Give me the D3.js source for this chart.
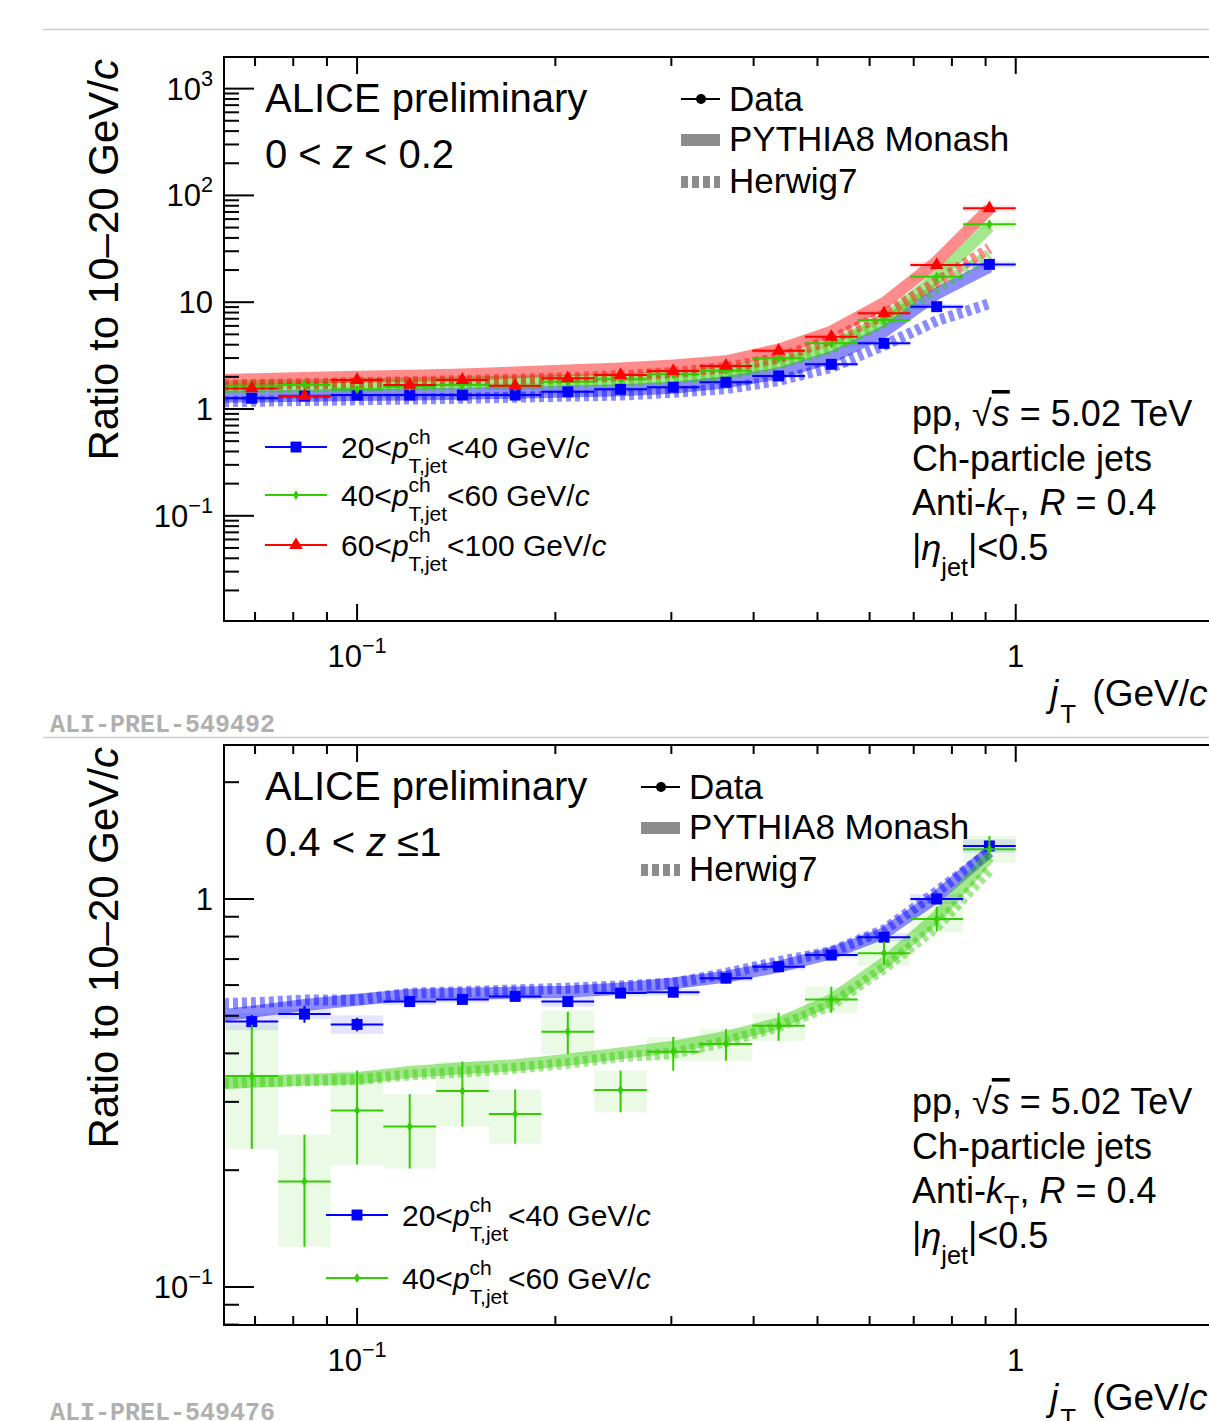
<!DOCTYPE html>
<html>
<head>
<meta charset="utf-8">
<script src="https://cdn.jsdelivr.net/npm/d3@7"></script>
<style>
body{margin:0;background:#fff}
svg{display:block}
text{font-family:"Liberation Sans",Arial,Helvetica,sans-serif;fill:#000}
</style>
</head>
<body>
<svg id="chart" width="1209" height="1421"></svg>
<script>
// jT bins (GeV/c), log spaced
var binEdges = [0.0631,0.0759,0.0912,0.1096,0.1318,0.1585,0.1905,0.2291,0.2754,0.3311,0.3981,0.4786,0.5754,0.6918,0.8318,1.0];
var binCenters = [0.0692,0.0832,0.1,0.1202,0.1445,0.1738,0.2089,0.2512,0.302,0.3631,0.4365,0.5248,0.631,0.7586,0.912];
// model curves are given at the left frame edge + bin centres
var modelX = [0.0628,0.0692,0.0832,0.1,0.1202,0.1445,0.1738,0.2089,0.2512,0.302,0.3631,0.4365,0.5248,0.631,0.7586,0.912];

// ---- top panel: 0 < z < 0.2 ----
var topBlue  = [1.26,1.32,1.35,1.35,1.35,1.35,1.45,1.53,1.60,1.78,2.04,2.62,4.12,9.08,22.6];
var topGreen = [1.65,1.68,1.53,1.62,1.68,1.62,1.80,1.90,2.11,2.28,2.98,4.12,6.81,17.3,53.6];
var topRed   = [1.56,1.32,1.87,1.68,1.87,1.65,1.94,2.08,2.27,2.53,3.51,4.75,7.87,22.3,75.7];
var topBlueStat  = [0.03,0.03,0.03,0.03,0.03,0.03,0.03,0.03,0.03,0.03,0.03,0.03,0.03,0.03,0.03];
var topGreenStat = [0.03,0.03,0.03,0.03,0.03,0.03,0.03,0.03,0.03,0.03,0.03,0.03,0.03,0.03,0.04];
var topRedStat   = [0.03,0.03,0.03,0.03,0.03,0.03,0.03,0.03,0.03,0.03,0.03,0.03,0.03,0.03,0.04];
var topBlueSys  = [0.05,0.05,0.05,0.05,0.05,0.05,0.05,0.05,0.05,0.05,0.05,0.05,0.05,0.06,0.07];
var topGreenSys = [0.07,0.07,0.07,0.07,0.07,0.07,0.07,0.07,0.07,0.07,0.07,0.08,0.08,0.09,0.11];
var topRedSys   = [0.06,0.06,0.06,0.06,0.06,0.06,0.06,0.06,0.06,0.06,0.06,0.06,0.06,0.07,0.07];
var topBluePythia  = [1.30,1.31,1.33,1.35,1.37,1.39,1.42,1.46,1.50,1.58,1.78,2.15,3.05,5.3,12.0,21.5];
var topBlueHerwig  = [1.17,1.18,1.20,1.22,1.24,1.26,1.29,1.32,1.35,1.43,1.55,1.85,2.45,3.95,6.7,9.7];
var topGreenPythia = [1.62,1.64,1.67,1.70,1.74,1.77,1.81,1.86,1.90,2.00,2.20,2.75,3.9,6.8,17.0,51.0];
var topGreenHerwig = [1.55,1.57,1.60,1.62,1.65,1.68,1.71,1.75,1.80,1.90,2.10,2.60,3.7,6.5,13.5,28.0];
var topRedPythia   = [1.87,1.90,1.95,2.00,2.05,2.10,2.20,2.30,2.40,2.55,2.80,3.6,5.3,9.8,24.0,75.0];
var topRedHerwig   = [1.68,1.70,1.73,1.76,1.80,1.85,1.90,1.97,2.05,2.20,2.45,3.0,4.5,7.6,15.5,32.0];

// ---- bottom panel: 0.4 < z <= 1 ----
var botBlue  = [0.483,0.505,0.475,0.544,0.551,0.561,0.544,0.572,0.575,0.625,0.669,0.717,0.797,1.0,1.37];
var botBlueStat = [0.04,0.05,0.04,0.03,0.03,0.03,0.03,0.03,0.03,0.03,0.03,0.03,0.03,0.03,0.03];
var botBlueSys  = [0.05,0.03,0.055,0.02,0.02,0.02,0.03,0.02,0.02,0.02,0.02,0.02,0.025,0.03,0.04];
var botGreen = [0.350,0.187,0.285,0.259,0.320,0.279,0.455,0.322,0.404,0.423,0.471,0.551,0.725,0.888,1.343];
var botGreenLo = [0.227,0.127,0.207,0.202,0.259,0.234,0.398,0.282,0.361,0.383,0.431,0.509,0.676,0.824,1.26];
var botGreenHi = [0.474,0.247,0.361,0.314,0.381,0.323,0.512,0.361,0.441,0.462,0.509,0.594,0.776,0.955,1.453];
var botGreenSysLo = [0.227,0.127,0.206,0.202,0.259,0.234,0.398,0.282,0.381,0.383,0.431,0.509,0.672,0.82,1.24];
var botGreenSysHi = [0.474,0.247,0.361,0.314,0.381,0.323,0.515,0.361,0.441,0.462,0.509,0.594,0.785,0.96,1.453];
var botBluePythia  = [0.502,0.512,0.533,0.550,0.566,0.570,0.574,0.577,0.588,0.606,0.631,0.669,0.725,0.816,1.014,1.324];
var botBlueHerwig  = [0.538,0.540,0.549,0.549,0.572,0.577,0.583,0.589,0.597,0.607,0.643,0.689,0.732,0.832,1.044,1.32];
var botGreenPythia = [0.335,0.338,0.342,0.345,0.358,0.366,0.373,0.385,0.400,0.416,0.441,0.478,0.549,0.683,0.900,1.285];
var botGreenHerwig = [0.335,0.338,0.340,0.342,0.352,0.358,0.366,0.377,0.392,0.400,0.429,0.469,0.533,0.663,0.848,1.188];

var BLUE = "#0000ff", GREEN = "#33cc00", RED = "#ff0000";
var xDomain = [0.0628, 3.0];

var svg = d3.select("#chart");

// text with italic / sub / sup pieces
function rich(g, x, y, size, parts, anchor) {
  var t = g.append("text").attr("x", x).attr("y", y).attr("font-size", size)
    .attr("text-anchor", anchor || "start");
  var off = 0, extra = 0;
  parts.forEach(function(p) {
    if (typeof p === "string") p = {t: p};
    if (p.sup !== undefined && p.sub !== undefined) {
      var up = -0.47 * size, dn = 0.5 * size;
      var s1 = t.append("tspan").attr("font-size", size * 0.7).attr("dy", up - off).attr("dx", extra).text(p.sup);
      var w1 = s1.node().getComputedTextLength();
      var s2 = t.append("tspan").attr("font-size", size * 0.7).attr("dx", -w1).attr("dy", dn - up).text(p.sub);
      var w2 = s2.node().getComputedTextLength();
      extra = Math.max(0, w1 - w2);
      off = dn;
    } else if (p.sup !== undefined) {
      t.append("tspan").attr("font-size", size * 0.7).attr("dy", -0.45 * size - off).attr("dx", extra).text(p.sup);
      off = -0.45 * size; extra = 0;
    } else if (p.sub !== undefined) {
      t.append("tspan").attr("font-size", size * 0.7).attr("dy", (p.d || 0.4) * size - off).attr("dx", extra + (p.dx || 0)).text(p.sub);
      off = (p.d || 0.4) * size; extra = p.after || 0;
    } else {
      var s = t.append("tspan").attr("dy", -off).attr("dx", extra).text(p.t);
      if (p.i) s.attr("font-style", "italic");
      if (p.over) s.style("text-decoration", "overline");
      off = 0; extra = 0;
    }
  });
  return t;
}

function drawPanel(cfg) {
  var g = svg.append("g");
  var x = d3.scaleLog().domain(xDomain).range([224, 1330]);
  var y = d3.scaleLog().domain(cfg.yDomain).range([cfg.y1, cfg.y0]);
  var clipId = "clip" + cfg.y0;
  g.append("clipPath").attr("id", clipId).append("rect")
    .attr("x", 224).attr("y", cfg.y0).attr("width", 1106).attr("height", cfg.y1 - cfg.y0);
  var plot = g.append("g").attr("clip-path", "url(#" + clipId + ")");

  // systematic boxes
  cfg.series.forEach(function(s) {
    s.val.forEach(function(v, i) {
      var hi = s.sysHi ? s.sysHi[i] : v * (1 + s.sys[i]);
      var lo = s.sysLo ? s.sysLo[i] : v * (1 - s.sys[i]);
      plot.append("rect")
        .attr("x", x(binEdges[i])).attr("width", x(binEdges[i + 1]) - x(binEdges[i]))
        .attr("y", y(hi)).attr("height", y(lo) - y(hi))
        .attr("fill", s.color).attr("fill-opacity", 0.1);
    });
  });

  // model curves
  var line = d3.line().x(function(d) { return x(d[0]); }).y(function(d) { return y(d[1]); });
  cfg.series.forEach(function(s) {
    plot.append("path").attr("d", line(d3.zip(modelX, s.pythia)))
      .attr("fill", "none").attr("stroke", s.color).attr("stroke-opacity", 0.45)
      .attr("stroke-width", 12);
    plot.append("path").attr("d", line(d3.zip(modelX, s.herwig)))
      .attr("fill", "none").attr("stroke", s.color).attr("stroke-opacity", 0.45)
      .attr("stroke-width", 11).attr("stroke-dasharray", "5,4");
  });

  // data points
  cfg.series.forEach(function(s) {
    s.val.forEach(function(v, i) {
      var cx = x(binCenters[i]), cy = y(v);
      var hi = s.hi ? s.hi[i] : v * (1 + s.stat[i]);
      var lo = s.lo ? s.lo[i] : v * (1 - s.stat[i]);
      plot.append("line").attr("x1", x(binEdges[i])).attr("x2", x(binEdges[i + 1]))
        .attr("y1", cy).attr("y2", cy).attr("stroke", s.color).attr("stroke-width", 2);
      plot.append("line").attr("x1", cx).attr("x2", cx)
        .attr("y1", y(hi)).attr("y2", y(lo)).attr("stroke", s.color).attr("stroke-width", 2);
      plot.append("path").attr("d", d3.symbol().type(s.shape).size(s.size)())
        .attr("transform", "translate(" + cx + "," + cy + ")").attr("fill", s.color);
    });
  });

  // frame
  g.append("rect").attr("x", 224).attr("y", cfg.y0).attr("width", 1106).attr("height", cfg.y1 - cfg.y0)
    .attr("fill", "none").attr("stroke", "#000").attr("stroke-width", 2);

  // y ticks
  var isMajor = function(v) { return Math.abs(Math.log10(v) - Math.round(Math.log10(v))) < 1e-6; };
  y.ticks().forEach(function(v) {
    var len = isMajor(v) ? 30 : 15;
    g.append("line").attr("x1", 224).attr("x2", 224 + len).attr("y1", y(v)).attr("y2", y(v))
      .attr("stroke", "#000").attr("stroke-width", 2);
    g.append("line").attr("x1", 1330).attr("x2", 1330 - len).attr("y1", y(v)).attr("y2", y(v))
      .attr("stroke", "#000").attr("stroke-width", 2);
    if (isMajor(v)) {
      var e = Math.round(Math.log10(v));
      if (e === 0) rich(g, 213, y(v) + 11, 31, ["1"], "end");
      else if (e === 1) rich(g, 213, y(v) + 11, 31, ["10"], "end");
      else rich(g, 213, y(v) + 11, 31, ["10", {sup: e < 0 ? "\u2212" + (-e) : "" + e}], "end");
    }
  });
  // x ticks
  x.ticks().forEach(function(v) {
    var len = isMajor(v) ? 17 : 9;
    g.append("line").attr("x1", x(v)).attr("x2", x(v)).attr("y1", cfg.y1).attr("y2", cfg.y1 - len)
      .attr("stroke", "#000").attr("stroke-width", 2);
    g.append("line").attr("x1", x(v)).attr("x2", x(v)).attr("y1", cfg.y0).attr("y2", cfg.y0 + len)
      .attr("stroke", "#000").attr("stroke-width", 2);
    if (isMajor(v)) {
      var e = Math.round(Math.log10(v));
      if (e === 0) rich(g, x(v), cfg.y1 + 46, 31, ["1"], "middle");
      else rich(g, x(v), cfg.y1 + 46, 31, ["10", {sup: "\u2212" + (-e)}], "middle");
    }
  });

  // axis titles
  var yt = g.append("g").attr("transform", "translate(118," + (cfg.y0 + 2) + ") rotate(-90)");
  rich(yt, 0, 0, 42, ["Ratio to 10\u201320 GeV/", {t: "c", i: true}], "end");
  rich(g, 1050, cfg.y1 + 85, 37, [{t: "j", i: true}, {sub: "T", d: 0.45, dx: 2, after: 6}, " (GeV/", {t: "c", i: true}]);

  // labels
  rich(g, 265, cfg.y0 + 55, 40, ["ALICE preliminary"]);
  rich(g, 265, cfg.y0 + 111, 40, cfg.zLabel);

  // model legend
  var lx = cfg.legX;
  var ly = cfg.y0 + 42;
  g.append("line").attr("x1", lx).attr("x2", lx + 39).attr("y1", ly).attr("y2", ly).attr("stroke", "#000").attr("stroke-width", 2);
  g.append("circle").attr("cx", lx + 20).attr("cy", ly).attr("r", 5).attr("fill", "#000");
  rich(g, lx + 48, ly + 12, 35, ["Data"]);
  g.append("rect").attr("x", lx).attr("y", ly + 35).attr("width", 39).attr("height", 12).attr("fill", "#8c8c8c");
  rich(g, lx + 48, ly + 52, 35, ["PYTHIA8 Monash"]);
  g.append("line").attr("x1", lx).attr("x2", lx + 39).attr("y1", ly + 83).attr("y2", ly + 83)
    .attr("stroke", "#8c8c8c").attr("stroke-width", 12).attr("stroke-dasharray", "7,4");
  rich(g, lx + 48, ly + 94, 35, ["Herwig7"]);

  // series legend
  cfg.series.forEach(function(s, k) {
    var yy = cfg.serY[k];
    g.append("line").attr("x1", cfg.serX).attr("x2", cfg.serX + 62).attr("y1", yy).attr("y2", yy)
      .attr("stroke", s.color).attr("stroke-width", 2);
    g.append("path").attr("d", d3.symbol().type(s.shape).size(s.size)())
      .attr("transform", "translate(" + (cfg.serX + 31) + "," + yy + ")").attr("fill", s.color);
    rich(g, cfg.serX + 76, yy + 11, 30,
      [s.lo1, {t: "p", i: true}, {sup: "ch", sub: "T,jet"}, s.hi1, {t: "c", i: true}]);
  });

  // collision info
  var ty = cfg.infoY;
  rich(g, 912, ty, 36, ["pp, \u221A", {t: "s", i: true, over: true}, " = 5.02 TeV"]);
  rich(g, 912, ty + 45, 36, ["Ch-particle jets"]);
  rich(g, 912, ty + 89, 36, ["Anti-", {t: "k", i: true}, {sub: "T", d: 0.3}, ", ", {t: "R", i: true}, " = 0.4"]);
  rich(g, 912, ty + 134, 36, ["|", {t: "\u03B7", i: true}, {sub: "jet", d: 0.45}, "|<0.5"]);
}

// separator lines and preliminary ids
svg.append("line").attr("x1", 43).attr("x2", 1209).attr("y1", 29.5).attr("y2", 29.5).attr("stroke", "#d0d0d0").attr("stroke-width", 1.5);
svg.append("line").attr("x1", 43).attr("x2", 1209).attr("y1", 737.5).attr("y2", 737.5).attr("stroke", "#d0d0d0").attr("stroke-width", 1.5);
svg.append("text").attr("x", 50).attr("y", 732).attr("font-size", 25).attr("font-weight", "bold")
  .style("font-family", "'Liberation Mono','Courier New',monospace").style("fill", "#b0b0b0").text("ALI-PREL-549492");
svg.append("text").attr("x", 50).attr("y", 1420).attr("font-size", 25).attr("font-weight", "bold")
  .style("font-family", "'Liberation Mono','Courier New',monospace").style("fill", "#b0b0b0").text("ALI-PREL-549476");

drawPanel({
  y0: 57, y1: 621, yDomain: [0.01035, 1977],
  zLabel: ["0 < ", {t: "z", i: true}, " < 0.2"],
  legX: 681, serX: 265, serY: [447, 495, 545], infoY: 426,
  series: [
    {color: BLUE, shape: d3.symbolSquare, size: 120, val: topBlue, stat: topBlueStat, sys: topBlueSys,
     pythia: topBluePythia, herwig: topBlueHerwig, lo1: "20<", hi1: "<40 GeV/"},
    {color: GREEN, shape: d3.symbolDiamond, size: 30, val: topGreen, stat: topGreenStat, sys: topGreenSys,
     pythia: topGreenPythia, herwig: topGreenHerwig, lo1: "40<", hi1: "<60 GeV/"},
    {color: RED, shape: d3.symbolTriangle, size: 80, val: topRed, stat: topRedStat, sys: topRedSys,
     pythia: topRedPythia, herwig: topRedHerwig, lo1: "60<", hi1: "<100 GeV/"}
  ]
});

drawPanel({
  y0: 745, y1: 1325, yDomain: [0.0798, 2.494],
  zLabel: ["0.4 < ", {t: "z", i: true}, " \u22641"],
  legX: 641, serX: 326, serY: [1215, 1278], infoY: 1114,
  series: [
    {color: BLUE, shape: d3.symbolSquare, size: 120, val: botBlue, stat: botBlueStat, sys: botBlueSys,
     pythia: botBluePythia, herwig: botBlueHerwig, lo1: "20<", hi1: "<40 GeV/"},
    {color: GREEN, shape: d3.symbolDiamond, size: 30, val: botGreen, lo: botGreenLo, hi: botGreenHi,
     sysLo: botGreenSysLo, sysHi: botGreenSysHi,
     pythia: botGreenPythia, herwig: botGreenHerwig, lo1: "40<", hi1: "<60 GeV/"}
  ]
});
</script>
</body>
</html>
